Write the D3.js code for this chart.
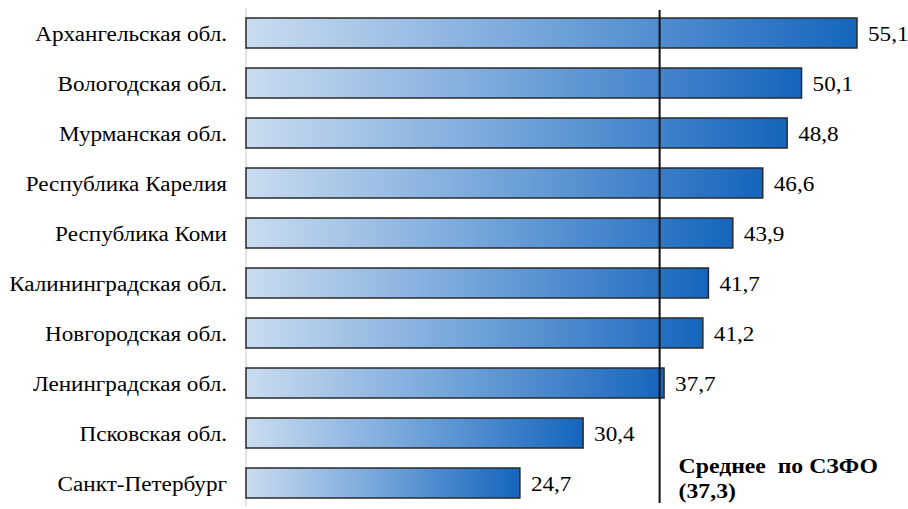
<!DOCTYPE html>
<html>
<head>
<meta charset="utf-8">
<script src="https://cdn.jsdelivr.net/npm/d3@7"></script>
</head>
<body style="margin:0">
<svg id="chart" width="908" height="509"></svg>
<script>
const regions = ["Архангельская обл.", "Вологодская обл.", "Мурманская обл.", "Республика Карелия",
  "Республика Коми", "Калининградская обл.", "Новгородская обл.", "Ленинградская обл.",
  "Псковская обл.", "Санкт-Петербург"]
const values = [55.1, 50.1, 48.8, 46.6, 43.9, 41.7, 41.2, 37.7, 30.4, 24.7]
const meanValue = 37.3
const meanLabel = ["Среднее  по СЗФО", "(37,3)"]

const fmt = v => String(v).replace('.', ',')
const stretch = 1.13 // source text looks a bit wide
const fontFam = "Tinos, 'Liberation Serif', serif"

const svg = d3.select('#chart')

const x = d3.scaleLinear()
  .domain([0, 55.1])
  .range([246, 857])

const y = d3.scaleBand()
  .domain(regions)
  .range([8, 508])
  .paddingInner(0.4)
  .paddingOuter(0.2)

// gradient for the bars
const grad = svg.append('defs')
  .append('linearGradient')
  .attr('id', 'barGrad')
  .attr('x1', '0%').attr('x2', '100%')
  .attr('y1', '0%').attr('y2', '0%')
grad.append('stop').attr('offset', '0%').attr('stop-color', '#cadcf0')
grad.append('stop').attr('offset', '45%').attr('stop-color', '#7aa9dc')
grad.append('stop').attr('offset', '100%').attr('stop-color', '#1565bd')

// left axis line
svg.append('line')
  .attr('x1', x(0)).attr('x2', x(0))
  .attr('y1', 8).attr('y2', 506)
  .attr('stroke', '#c8c8c8')
  .attr('stroke-width', 1)

svg.selectAll('rect.bar')
  .data(values)
  .enter().append('rect')
  .attr('class', 'bar')
  .attr('x', x(0))
  .attr('y', (d, i) => y(regions[i]))
  .attr('width', d => x(d) - x(0))
  .attr('height', y.bandwidth())
  .attr('fill', 'url(#barGrad)')
  .attr('stroke', '#2a2a2a')
  .attr('stroke-width', 1.5)

// category labels
regions.forEach(r => {
  svg.append('text')
    .attr('transform', `translate(227,${y(r) + y.bandwidth() / 2 + 8}) scale(${stretch},1)`)
    .attr('text-anchor', 'end')
    .style('font-family', fontFam)
    .style('font-size', '20.5px')
    .text(r)
})

// value labels
values.forEach((v, i) => {
  svg.append('text')
    .attr('transform', `translate(${x(v) + 11},${y(regions[i]) + y.bandwidth() / 2 + 8}) scale(${stretch},1)`)
    .style('font-family', fontFam)
    .style('font-size', '20.5px')
    .text(fmt(v))
})

// mean line
svg.append('line')
  .attr('x1', x(meanValue)).attr('x2', x(meanValue))
  .attr('y1', 10).attr('y2', 503)
  .attr('stroke', '#111')
  .attr('stroke-width', 2)

meanLabel.forEach((m, i) => {
  svg.append('text')
    .attr('transform', `translate(${x(meanValue) + 19},${473 + i * 25}) scale(${stretch},1)`)
    .style('font-family', fontFam)
    .style('font-size', '21px')
    .style('font-weight', 'bold')
    .style('white-space', 'pre')
    .text(m)
})
</script>
</body>
</html>
